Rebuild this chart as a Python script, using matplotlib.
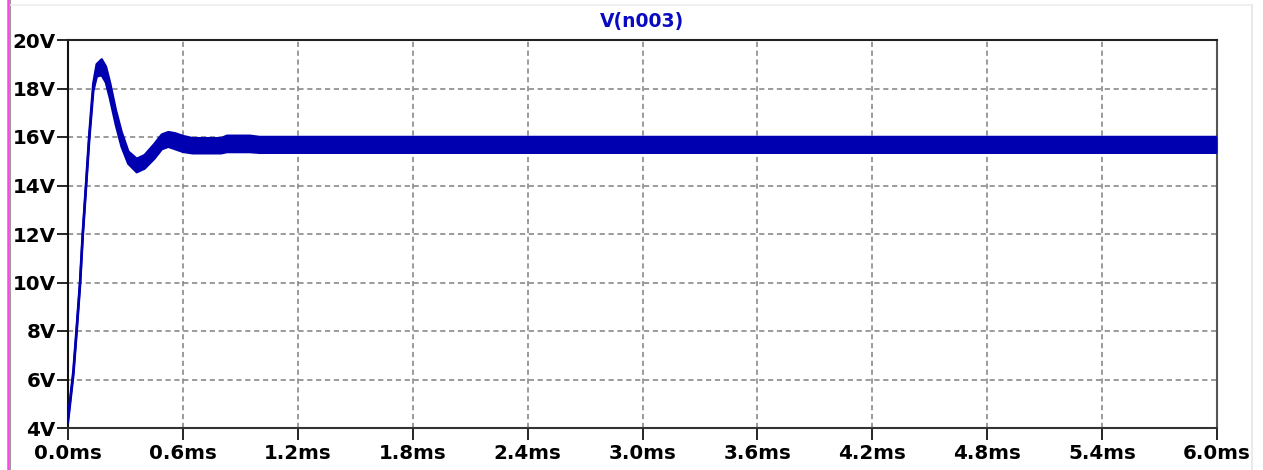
import matplotlib
matplotlib.use("Agg")
import matplotlib.pyplot as plt
from matplotlib.lines import Line2D

# Transient response of node n003: time (ms) with upper/lower ripple envelope (V)
t_ms = [0.000, 0.028, 0.045, 0.063, 0.077, 0.094, 0.111, 0.132, 0.150, 0.176,
        0.198, 0.219, 0.250, 0.280, 0.315, 0.359, 0.400, 0.450, 0.490, 0.524,
        0.560, 0.600, 0.650, 0.800, 0.830, 0.950, 1.000, 6.000]
v_upper = [4.40, 6.35, 8.10, 10.05, 12.05, 14.05, 16.10, 18.20, 19.00, 19.20,
           18.90, 18.25, 17.10, 16.20, 15.40, 15.10, 15.25, 15.70, 16.10, 16.20,
           16.15, 16.04, 15.95, 15.95, 16.05, 16.05, 16.00, 16.00]
v_lower = [4.25, 6.20, 7.95, 9.90, 11.90, 13.90, 15.90, 17.90, 18.50, 18.55,
           18.25, 17.60, 16.50, 15.60, 14.90, 14.55, 14.70, 15.10, 15.50, 15.60,
           15.50, 15.39, 15.33, 15.33, 15.38, 15.38, 15.35, 15.35]

x_ticks = [0.0, 0.6, 1.2, 1.8, 2.4, 3.0, 3.6, 4.2, 4.8, 5.4, 6.0]
x_labels = ["0.0ms", "0.6ms", "1.2ms", "1.8ms", "2.4ms", "3.0ms",
            "3.6ms", "4.2ms", "4.8ms", "5.4ms", "6.0ms"]
y_ticks = [4, 6, 8, 10, 12, 14, 16, 18, 20]
y_labels = ["4V", "6V", "8V", "10V", "12V", "14V", "16V", "18V", "20V"]

trace_color = "#0000b0"
W, H = 1263, 470

fig = plt.figure(figsize=(W / 100, H / 100), dpi=100)
fig.patch.set_facecolor("white")
ax = fig.add_axes([68 / W, 42 / H, (1217 - 68) / W, (428 - 40) / H])

ax.fill_between(t_ms, v_lower, v_upper, color=trace_color, lw=0, zorder=3)
ax.plot(t_ms, v_upper, color=trace_color, lw=1.8, zorder=3)
ax.plot(t_ms, v_lower, color=trace_color, lw=1.8, zorder=3)

ax.set_xlim(0, 6.0)
ax.set_ylim(4, 20)

font = dict(family="DejaVu Sans", weight="bold", size=14.3)
ax.set_xticks(x_ticks)
ax.set_xticklabels(x_labels, **font)
ax.set_yticks(y_ticks)
ax.set_yticklabels(y_labels, **font)
ax.tick_params(axis="x", direction="out", length=8.6, width=1.2, pad=3, colors="black")
ax.tick_params(axis="y", direction="out", length=7.9, width=1.2, pad=1, colors="black")

ax.grid(True, color="#808080", lw=1.1, linestyle=(0, (3.4, 2.4)), zorder=1)

for side, col in [("left", "#111111"), ("bottom", "#333333"),
                  ("top", "#222222"), ("right", "#555555")]:
    ax.spines[side].set_color(col)
    ax.spines[side].set_linewidth(1.5)

ax.set_title("V(n003)", color="#0a0ac0", fontsize=13.5, fontweight="bold",
             family="DejaVu Sans", pad=9)

# Window frame decorations
fig.add_artist(Line2D([7.5 / W, 7.5 / W], [0, 1], color="#ff44ee", lw=1.8))
fig.add_artist(Line2D([10 / W, 10 / W], [0, 1], color="#9a9a9a", lw=1.5))
fig.add_artist(Line2D([11 / W, 1252 / W], [1 - 5 / H, 1 - 5 / H], color="#eeeeee", lw=1.2))
fig.add_artist(Line2D([1252 / W, 1252 / W], [0, 1 - 5 / H], color="#e6e6e6", lw=1.2))

fig.savefig("out.png", dpi=100, facecolor="white")
